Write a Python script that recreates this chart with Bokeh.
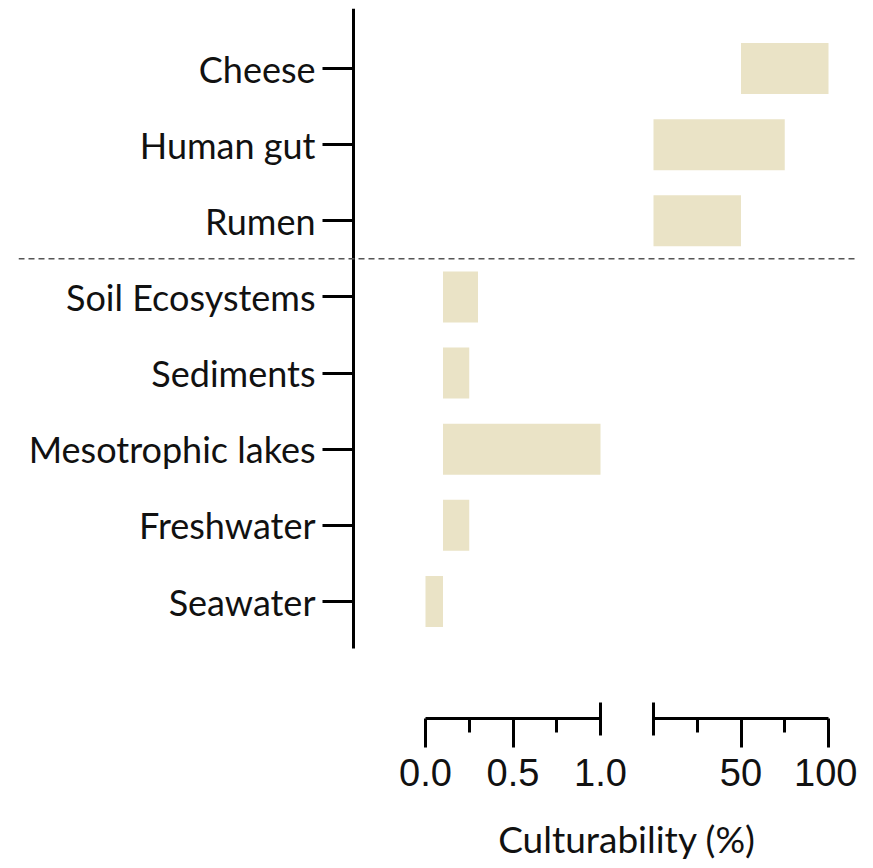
from bokeh.plotting import figure
from bokeh.models import Range1d, LinearAxis, FixedTicker, Span, Label, PrintfTickFormatter
from bokeh.embed import file_html
from bokeh.resources import INLINE

# ---- data ----
categories = ["Seawater", "Freshwater", "Mesotrophic lakes", "Sediments",
              "Soil Ecosystems", "Rumen", "Human gut", "Cheese"]
# low-culturability environments (axis 0 - 1 %)
low_cats = ["Seawater", "Freshwater", "Mesotrophic lakes", "Sediments", "Soil Ecosystems"]
low_left = [0.0, 0.1, 0.1, 0.1, 0.1]
low_right = [0.1, 0.25, 1.0, 0.25, 0.3]
# high-culturability environments (axis 0 - 100 %)
high_cats = ["Rumen", "Human gut", "Cheese"]
high_left = [0, 0, 50]
high_right = [50, 75, 100]

low_ticks = [0.0, 0.5, 1.0]
low_minor = [0.25, 0.75]
high_ticks = [50, 100]
high_minor = [25, 75]

BAR = "#EAE3C6"
FONT = "Lato"

idx = {c: i for i, c in enumerate(categories)}

# layout geometry (pixel mapping of the two broken axes), figure coordinates
W, H = 857, 860
ML, MR, MT = 18, 0, 8
frame_l, frame_r = ML, W - MR
low0, low1 = 425, 600                            # x of 0 and 1 on low axis
high0, high1 = 653, 828                          # x of 0 and 100 on high axis
ls = (low1 - low0) / 1.0
hs = (high1 - high0) / 100.0
xr = Range1d((frame_l - low0) / ls, (frame_r - low0) / ls)
hr = Range1d((frame_l - high0) / hs, (frame_r - high0) / hs)

row0_px, row7_px = 601, 68
rs = (row0_px - row7_px) / 7.0
top_px, bot_px = MT, H
yr = Range1d(-(bot_px - row0_px) / rs, (row0_px - top_px) / rs)

axis_y = -(718 - row0_px) / rs
yaxis_x = (353 - low0) / ls
yaxis_bottom = -(648 - row0_px) / rs

p = figure(width=W, height=H, output_backend="svg", toolbar_location=None,
           x_axis_location=None, y_axis_location=None,
           x_range=xr, y_range=yr,
           min_border_left=ML, min_border_right=MR, min_border_top=MT, min_border_bottom=0)
p.extra_x_ranges = {"high": hr}
p.grid.visible = False
p.outline_line_color = None
p.background_fill_color = "white"
p.border_fill_color = "white"

# bars
p.hbar(y=[idx[c] for c in low_cats], left=low_left, right=low_right, height=0.67,
       fill_color=BAR, line_color=None)
p.hbar(y=[idx[c] for c in high_cats], left=high_left, right=high_right, height=0.67,
       fill_color=BAR, line_color=None, x_range_name="high")

# separator
p.add_layout(Span(location=4.5, dimension="width", line_color="#555555",
                  line_width=1.5, line_dash="6 4"))

# y axis
yax = LinearAxis(ticker=FixedTicker(ticks=list(range(len(categories)))),
                 major_label_overrides={i: c for i, c in enumerate(categories)},
                 fixed_location=yaxis_x, bounds=(yaxis_bottom, yr.end + 1),
                 axis_line_width=3, axis_line_color="black",
                 major_tick_line_width=3, major_tick_line_color="black",
                 major_tick_out=31, major_tick_in=0, minor_tick_out=0, minor_tick_in=0,
                 major_label_text_font=FONT, major_label_text_font_size="36px",
                 major_label_text_color="#111111", major_label_standoff=7)
p.add_layout(yax, "left")


def add_xaxis(range_name, ticks, minor=None, bounds="auto", line=True, tick_in=0, tick_out=0,
              minor_out=0, labels=False, fmt=None, standoff=0):
    kw = dict(x_range_name=range_name,
              ticker=FixedTicker(ticks=ticks, minor_ticks=minor or []),
              fixed_location=axis_y, bounds=bounds,
              axis_line_width=3, axis_line_color="black" if line else None,
              major_tick_line_width=3,
              major_tick_line_color="black" if (tick_in or tick_out) else None,
              major_tick_in=tick_in, major_tick_out=tick_out,
              minor_tick_line_width=3,
              minor_tick_line_color="black" if minor_out else None,
              minor_tick_in=0, minor_tick_out=minor_out,
              major_label_text_font="Liberation Sans", major_label_text_font_size="38px",
              major_label_text_color="#111111" if labels else None,
              major_label_standoff=standoff)
    if fmt is not None:
        kw["formatter"] = fmt
    ax = LinearAxis(**kw)
    p.add_layout(ax, "below")
    return ax


# low axis: line + ticks
add_xaxis("default", [low_ticks[0], low_ticks[1]], low_minor, bounds=(0, 1),
          tick_out=29, minor_out=14)
# low axis break mark at the end
add_xaxis("default", [low_ticks[-1]], line=False, tick_in=16, tick_out=17)
# low axis labels
add_xaxis("default", low_ticks, line=False, labels=True,
          fmt=PrintfTickFormatter(format="%.1f"), standoff=40)
# high axis: line + ticks
add_xaxis("high", high_ticks, high_minor, bounds=(0, 100), tick_out=29, minor_out=14)
# high axis break mark at the start
add_xaxis("high", [0], line=False, tick_in=16, tick_out=17)
# high axis labels
add_xaxis("high", high_ticks, line=False, labels=True, standoff=40)

# axis title
title_x = ((low0 + high1) / 2 - low0) / ls
title_y = -(838 - row0_px) / rs
p.add_layout(Label(x=title_x, y=title_y, text="Culturability (%)", text_align="center",
                   text_baseline="middle", text_font=FONT, text_font_size="37px",
                   text_color="#111111"))

open("out.html", "w").write(file_html(p, INLINE))
